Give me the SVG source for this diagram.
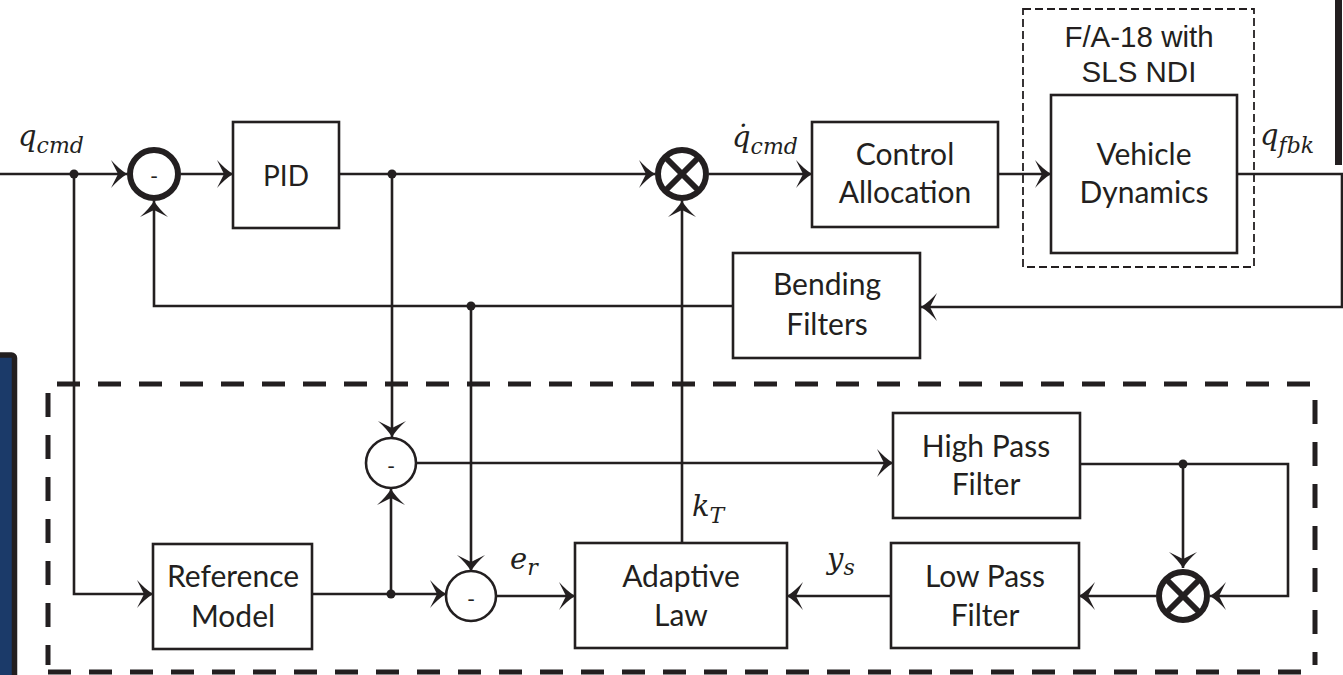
<svg xmlns="http://www.w3.org/2000/svg" width="1343" height="675" viewBox="0 0 1343 675">
<style>
.box{fill:#fff;stroke:#231f20;stroke-width:2.6}
.ln{fill:none;stroke:#231f20;stroke-width:2.6}
.ring{fill:#fff;stroke:#231f20;stroke-width:6}
.thin{fill:#fff;stroke:#231f20;stroke-width:2.6}
.x{stroke:#231f20;stroke-width:6}
.lbl{font-family:Lato,"Liberation Sans",sans-serif;font-size:30px;fill:#231f20;text-anchor:middle}
.ar{font-family:"Liberation Sans",Arial,sans-serif;font-size:29.5px;fill:#231f20;text-anchor:middle}
.m{font-family:"DejaVu Serif","Liberation Serif",serif;font-style:italic;font-size:29px;fill:#231f20}
.s{font-size:22px}
.dot{fill:#231f20}
.minus{font-family:Lato,"Liberation Sans",sans-serif;font-size:22px;fill:#231f20;text-anchor:middle}
</style>
<defs>
<marker id="a" markerUnits="userSpaceOnUse" markerWidth="20" markerHeight="32" viewBox="-18 -16 20 32" refX="0" refY="0" orient="auto">
<path d="M0,0 Q-8,-5 -16,-14 L-9,0 L-16,14 Q-8,5 0,0 Z" fill="#231f20"/>
</marker>
</defs>
<rect x="-10" y="355" width="24.5" height="400" rx="3" fill="#1b3a69" stroke="#231f20" stroke-width="5.5"/>
<rect x="1335" y="0" width="7" height="165" fill="#231f20"/>
<g id="adaptive-region">
<line x1="57" y1="384" x2="1312" y2="384" stroke="#231f20" stroke-width="5" stroke-dasharray="23 18"/>
<line x1="48" y1="393" x2="48" y2="665" stroke="#231f20" stroke-width="5" stroke-dasharray="24 18"/>
<line x1="1315" y1="400" x2="1315" y2="665" stroke="#231f20" stroke-width="5" stroke-dasharray="24 18"/>
<line x1="48" y1="672" x2="1305" y2="672" stroke="#231f20" stroke-width="5" stroke-dasharray="23 18"/>
</g>
<g id="plant-region">
<rect x="1023" y="9" width="231" height="258" fill="none" stroke="#231f20" stroke-width="1.8" stroke-dasharray="8 4"/>
<text class="ar" x="1139" y="47">F/A-18 with</text>
<text class="ar" x="1139" y="82">SLS NDI</text>
</g>
<g id="connectors">
<path class="ln" d="M0,174 H127" marker-end="url(#a)"/>
<path class="ln" d="M181,174 H233" marker-end="url(#a)"/>
<path class="ln" d="M339,174 H655" marker-end="url(#a)"/>
<path class="ln" d="M709,174 H812" marker-end="url(#a)"/>
<path class="ln" d="M998,174 H1051" marker-end="url(#a)"/>
<path class="ln" d="M1237,174 H1342 V307 H921" marker-end="url(#a)"/>
<path class="ln" d="M733,306 H154 V201" marker-end="url(#a)"/>
<path class="ln" d="M74,174 V594 H153" marker-end="url(#a)"/>
<path class="ln" d="M392,174 V437" marker-end="url(#a)"/>
<path class="ln" d="M312,594 H446" marker-end="url(#a)"/>
<path class="ln" d="M391,594 V489" marker-end="url(#a)"/>
<path class="ln" d="M416,463 H893" marker-end="url(#a)"/>
<path class="ln" d="M471,306 V571" marker-end="url(#a)"/>
<path class="ln" d="M496,596 H575" marker-end="url(#a)"/>
<path class="ln" d="M682,543 V201" marker-end="url(#a)"/>
<path class="ln" d="M1080,464 H1288 V596 H1210" marker-end="url(#a)"/>
<path class="ln" d="M1183,464 V568" marker-end="url(#a)"/>
<path class="ln" d="M1156,596 H1079" marker-end="url(#a)"/>
<path class="ln" d="M891,596 H787" marker-end="url(#a)"/>
<circle class="dot" cx="74" cy="174" r="4.5"/>
<circle class="dot" cx="392" cy="174" r="4.5"/>
<circle class="dot" cx="471" cy="306" r="4.5"/>
<circle class="dot" cx="391" cy="594" r="4.5"/>
<circle class="dot" cx="1183" cy="464" r="4.5"/>
</g>
<g id="sum1">
<circle class="ring" cx="154" cy="174" r="24"/>
<text class="minus" x="154" y="184">-</text>
</g>
<g id="mult1">
<circle class="ring" cx="682" cy="174" r="24"/>
<line class="x" x1="665" y1="157" x2="699" y2="191"/>
<line class="x" x1="699" y1="157" x2="665" y2="191"/>
</g>
<g id="mult2">
<circle class="ring" cx="1183" cy="596" r="24"/>
<line class="x" x1="1166" y1="579" x2="1200" y2="613"/>
<line class="x" x1="1200" y1="579" x2="1166" y2="613"/>
</g>
<g id="sum2">
<circle class="thin" cx="391" cy="463" r="25"/>
<text class="minus" x="391" y="474">-</text>
</g>
<g id="sum3">
<circle class="thin" cx="471" cy="596" r="25"/>
<text class="minus" x="471" y="607">-</text>
</g>
<g id="pid">
<rect class="box" x="233" y="122" width="106" height="106"/>
<text class="lbl" x="286" y="186" style="font-size:28px">PID</text>
</g>
<g id="control-allocation">
<rect class="box" x="812" y="122" width="186" height="105"/>
<text class="lbl" x="905" y="165">Control</text>
<text class="lbl" x="905" y="203">Allocation</text>
</g>
<g id="vehicle-dynamics">
<rect class="box" x="1051" y="95" width="186" height="158"/>
<text class="lbl" x="1144" y="165">Vehicle</text>
<text class="lbl" x="1144" y="203">Dynamics</text>
</g>
<g id="bending-filters">
<rect class="box" x="733" y="253" width="187" height="105"/>
<text class="lbl" x="827" y="295">Bending</text>
<text class="lbl" x="827" y="335">Filters</text>
</g>
<g id="reference-model">
<rect class="box" x="153" y="544" width="159" height="105"/>
<text class="lbl" x="233" y="587">Reference</text>
<text class="lbl" x="233" y="627">Model</text>
</g>
<g id="adaptive-law">
<rect class="box" x="575" y="543" width="212" height="105"/>
<text class="lbl" x="681" y="587">Adaptive</text>
<text class="lbl" x="681" y="626">Law</text>
</g>
<g id="high-pass-filter">
<rect class="box" x="893" y="413" width="187" height="105"/>
<text class="lbl" x="986" y="457">High Pass</text>
<text class="lbl" x="986" y="495">Filter</text>
</g>
<g id="low-pass-filter">
<rect class="box" x="891" y="543" width="188" height="105"/>
<text class="lbl" x="985" y="587">Low Pass</text>
<text class="lbl" x="985" y="626">Filter</text>
</g>
<g id="labels">
<text class="m" x="18" y="146">q<tspan class="s" dy="7">cmd</tspan></text>
<text class="m" x="732" y="147">q̇<tspan class="s" dy="7">cmd</tspan></text>
<text class="m" x="1260" y="145">q<tspan class="s" dy="8">fbk</tspan></text>
<text class="m" x="692" y="516">k<tspan class="s" dy="7">T</tspan></text>
<text class="m" x="510" y="569">e<tspan class="s" dy="6">r</tspan></text>
<text class="m" x="827" y="569">y<tspan class="s" dy="6">s</tspan></text>
</g>
</svg>
